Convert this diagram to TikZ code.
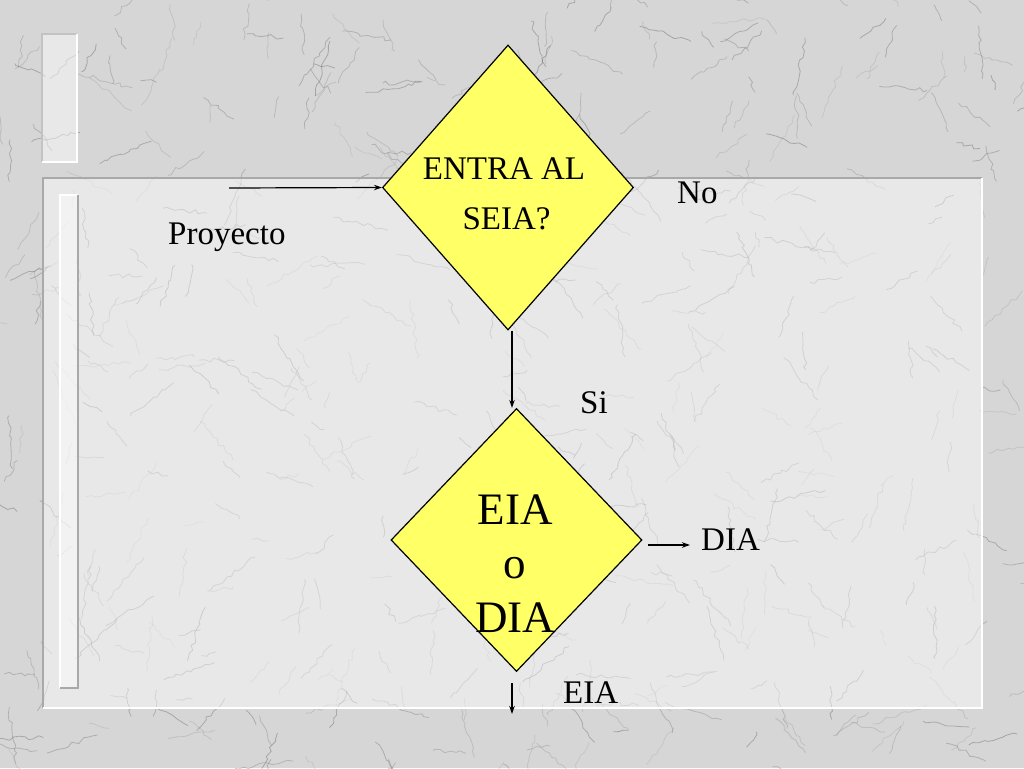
\documentclass[tikz,border=0pt]{standalone}
\usepackage{fontspec}
\setmainfont{Liberation Serif}
\usetikzlibrary{shapes.geometric,arrows.meta,decorations.pathmorphing}
\definecolor{marble}{HTML}{D6D6D6}
\definecolor{diayellow}{HTML}{FFFF66}
\definecolor{edgegrey}{HTML}{A9A9A9}
\tikzset{
  decision/.style={diamond, draw=black, line width=1.2pt, fill=diayellow, inner sep=0pt},
  lbl/.style={anchor=base west, inner sep=0pt, font=\fontsize{33}{40}\selectfont},
  inlbl/.style={anchor=base, inner sep=0pt, font=\fontsize{33}{40}\selectfont},
  biglbl/.style={anchor=base, inner sep=0pt, font=\fontsize{45}{54}\selectfont},
  arr/.style={draw=black, line width=1.2pt, -{Stealth[length=8pt,width=5.5pt]}},
  vein/.style={line width=0.8pt, decorate, decoration={random steps, segment length=5pt, amplitude=2.2pt}},
  wash/.style={fill=white, opacity=0.45},
}
\begin{document}
\begin{tikzpicture}[x=1pt,y=-1pt]
\useasboundingbox (0,0) rectangle (1024,768);
% marble background
\fill[marble] (0,0) rectangle (1024,768);
\begin{scope}
\clip (0,0) rectangle (1024,768);
\pgfmathsetseed{11}
\foreach \i in {1,...,520}{
  \pgfmathsetmacro{\xa}{rnd*1024}
  \pgfmathsetmacro{\ya}{rnd*768}
  \pgfmathsetmacro{\an}{rnd*360}
  \pgfmathsetmacro{\ln}{15+rnd*45}
  \pgfmathsetmacro{\gr}{30+rnd*35}
  \draw[vein, black!\gr, opacity=0.4] (\xa,\ya) -- ++(\an:\ln);
}
\end{scope}
% inner frame (washed)
\fill[wash] (43,178) rectangle (982,708);
\draw[edgegrey, line width=1.2pt] (43,708) -- (43,178) -- (982,178);
\draw[white, line width=2pt] (982,178) -- (982,708) -- (43,708);
% decorative bars
\fill[wash] (42,34) rectangle (77,162);
\draw[edgegrey!70, line width=1.2pt] (42,162) -- (42,34) -- (77,34);
\draw[white, line width=2pt] (77,34) -- (77,162) -- (42,162);
\fill[wash] (60,195) rectangle (78,688);
\draw[white, line width=1.6pt] (60,688) -- (60,195) -- (78,195);
\draw[edgegrey, line width=1.2pt] (78,195) -- (78,688) -- (60,688);
% diamonds
\node[decision, minimum width=251pt, minimum height=285pt] (q1) at (508,187.5) {};
\node[decision, minimum width=251pt, minimum height=263pt] (q2) at (516.5,540) {};
% diamond texts
\node[inlbl] (t1) at (504,179) {ENTRA AL};
\node[inlbl] (t2) at (506.5,229) {SEIA?};
\node[biglbl] (t3) at (515,524) {EIA};
\node[biglbl] (t4) at (515,578) {o};
\node[biglbl] (t5) at (515,632) {DIA};
% labels
\node[lbl] (proy) at (168,244) {Proyecto};
\node[lbl] (no) at (677,203) {No};
\node[lbl] (si) at (580,413) {Si};
\node[lbl] (dia) at (701,550) {DIA};
\node[lbl] (eia) at (563,703) {EIA};
% connectors
\coordinate (pin) at (229,188);
\coordinate (d1) at (648,545);
\coordinate (d2) at (690,545);
\coordinate (e1) at (512,683);
\coordinate (e2) at (512,714);
\draw[arr] (pin) -- (q1.west);
\draw[arr] ([xshift=4pt]q1.south) -- ([xshift=-4.5pt]q2.north);
\draw[arr] (d1) -- (d2);
\draw[arr] (e1) -- (e2);
\end{tikzpicture}
\end{document}
